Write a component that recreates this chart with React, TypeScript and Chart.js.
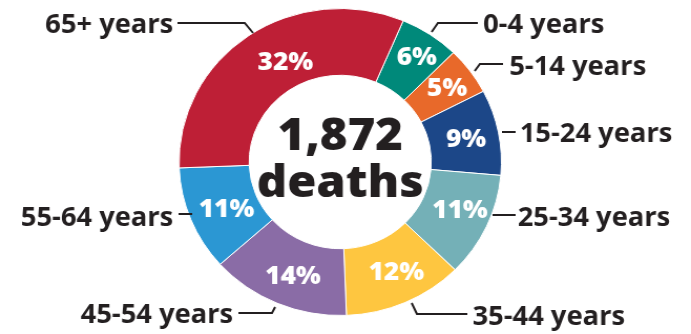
import React, { useEffect, useRef } from "react";
import { Chart, registerables } from "chart.js";

Chart.register(...registerables);

// ---- data ----
const categories = [
  "0-4 years",
  "5-14 years",
  "15-24 years",
  "25-34 years",
  "35-44 years",
  "45-54 years",
  "55-64 years",
  "65+ years",
];
const shares = [6, 5, 9, 11, 12, 14, 11, 32];
const totalLabel = "1,872";
const centerWord = "deaths";

// ---- styles ----
const colors = [
  "#00897A",
  "#E8692A",
  "#1C4788",
  "#74B0B7",
  "#FEC640",
  "#8A6CA6",
  "#2B97D3",
  "#BE1F36",
];
const INK = "#231F20";
const FONT = "'Open Sans'";
const W = 658;
const H = 334;
const SCALE_X = 691 / 658;

// leader-label layout (logical canvas coordinates)
const labelLayout: { x: number; y: number; align: CanvasTextAlign; line: number[][] }[] = [
  { x: 460, y: 33, align: "left", line: [[455, 23], [417, 23], [411, 32]] },
  { x: 485, y: 75, align: "left", line: [[479, 64], [457, 64], [452, 71]] },
  { x: 495, y: 142, align: "left", line: [[478, 132], [491, 132]] },
  { x: 493, y: 226, align: "left", line: [[469, 215], [491, 215]] },
  { x: 450, y: 325, align: "left", line: [[392, 303], [397, 314], [445, 314]] },
  { x: 222, y: 323, align: "right", line: [[227, 313], [259, 313], [262, 307]] },
  { x: 165, y: 226, align: "right", line: [[170, 214], [183, 214]] },
  { x: 165, y: 33, align: "right", line: [[169, 23], [233, 23], [241, 33]] },
];
const pctNudge = [
  [6, -4],
  [5, -2],
  [2, 1],
  [5, -2],
  [5, 1],
  [2, 4],
  [3, 3],
  [16, 0],
];

const overlayPlugin = {
  id: "overlay",
  afterDraw(chart: any) {
    const ctx = chart.ctx as CanvasRenderingContext2D;
    const meta = chart.getDatasetMeta(0);
    ctx.save();
    // percentages
    ctx.fillStyle = "#FFFFFF";
    ctx.font = `800 25px ${FONT}`;
    ctx.textAlign = "center";
    ctx.textBaseline = "middle";
    meta.data.forEach((arc: any, i: number) => {
      const p = arc.tooltipPosition();
      ctx.fillText(`${shares[i]}%`, p.x + pctNudge[i][0], p.y + pctNudge[i][1]);
    });
    // center text
    const a0 = meta.data[0];
    const cx = a0.x;
    ctx.fillStyle = INK;
    ctx.textBaseline = "alphabetic";
    ctx.font = `800 45px ${FONT}`;
    ctx.fillText(totalLabel, cx, 150);
    ctx.fillText(centerWord, cx, 197);
    // leader labels
    ctx.font = `700 26px ${FONT}`;
    ctx.strokeStyle = INK;
    ctx.lineWidth = 2;
    categories.forEach((c, i) => {
      const L = labelLayout[i];
      ctx.beginPath();
      L.line.forEach((pt, j) => (j === 0 ? ctx.moveTo(pt[0], pt[1]) : ctx.lineTo(pt[0], pt[1])));
      ctx.stroke();
      ctx.textAlign = L.align;
      ctx.fillText(c, L.x, L.y);
    });
    ctx.restore();
  },
};

export default function App() {
  const ref = useRef<HTMLCanvasElement | null>(null);
  useEffect(() => {
    if (!ref.current) return;
    const chart = new Chart(ref.current, {
      type: "doughnut",
      data: {
        labels: categories,
        datasets: [
          {
            data: shares,
            backgroundColor: colors,
            borderColor: "#FFFFFF",
            borderWidth: 1,
          },
        ],
      },
      options: {
        responsive: false,
        animation: false,
        rotation: 23,
        cutout: "56.5%",
        layout: { padding: { left: 170, right: 180, top: 8, bottom: 18 } },
        plugins: {
          legend: { display: false },
          tooltip: { enabled: false },
        },
      },
      plugins: [overlayPlugin],
    });
    return () => chart.destroy();
  }, []);
  return (
    <div
      style={{
        position: "absolute",
        left: 0,
        top: 0,
        width: 691,
        height: 334,
        overflow: "hidden",
        background: "#FFFFFF",
      }}
    >
      <canvas
        ref={ref}
        width={W}
        height={H}
        style={{
          width: W,
          height: H,
          transform: `scaleX(${SCALE_X})`,
          transformOrigin: "0 0",
        }}
      />
    </div>
  );
}
